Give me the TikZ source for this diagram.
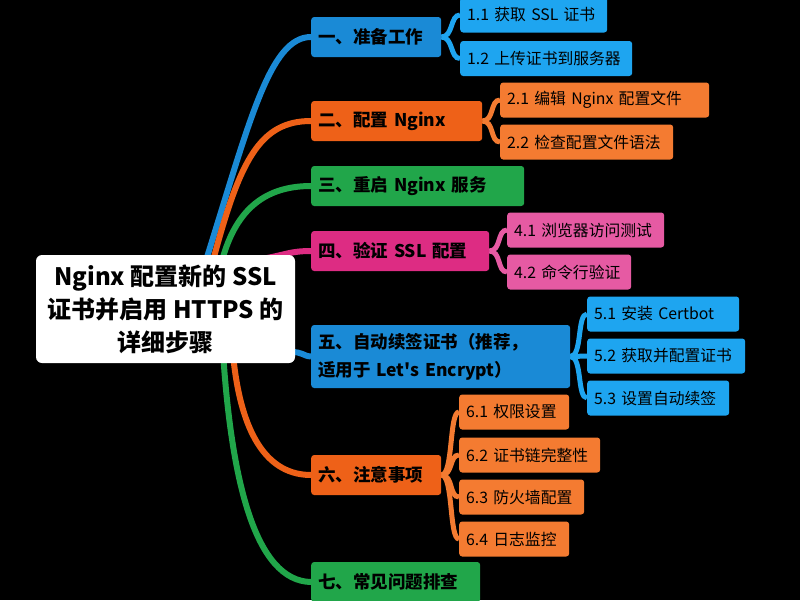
\documentclass[tikz,border=0pt]{standalone}
\usepackage{fontspec}
\newfontfamily\mapfont{Noto Sans CJK SC}
\usetikzlibrary{backgrounds}

\definecolor{topblue}{RGB}{26,138,214}
\definecolor{subblue}{RGB}{30,165,240}
\definecolor{toporange}{RGB}{238,97,24}
\definecolor{suborange}{RGB}{244,123,49}
\definecolor{topgreen}{RGB}{33,166,74}
\definecolor{toppink}{RGB}{221,44,131}
\definecolor{subpink}{RGB}{230,90,163}

\begin{document}
\begin{tikzpicture}[x=1pt,y=-1pt]
    \tikzstyle{root}=[fill=white,rounded corners=6pt,minimum width=259pt,minimum height=108pt,align=center,font=\mapfont\fontsize{24}{33}\selectfont\bfseries]
    \tikzstyle{topic}=[anchor=west,rounded corners=3pt,minimum height=40pt,inner xsep=7pt,align=left,font=\mapfont\fontsize{17.5}{28}\selectfont\bfseries]
    \tikzstyle{sub}=[anchor=west,rounded corners=3pt,minimum height=35pt,inner xsep=7pt,align=left,font=\mapfont\fontsize{15.8}{18}\selectfont]
    \tikzstyle{trunk}=[line width=6pt]
    \tikzstyle{twig}=[line width=5pt]

    \useasboundingbox (0,0) rectangle (800,600);

    \node[root] at (165.5,309) (root) {Nginx 配置新的 SSL\\证书并启用 HTTPS 的\\详细步骤};

    \node[topic,fill=topblue,text width=116pt] at (311,37) (t1) {一、准备工作};
    \node[topic,fill=toporange,text width=157pt] at (311,121) (t2) {二、配置 Nginx};
    \node[topic,fill=topgreen,text width=199pt] at (311,186) (t3) {三、重启 Nginx 服务};
    \node[topic,fill=toppink,text width=164pt] at (311,251) (t4) {四、验证 SSL 配置};
    \node[topic,fill=topblue,text width=245pt,minimum height=63pt] at (311,356.5) (t5) {五、自动续签证书（推荐，\\适用于 Let's Encrypt）};
    \node[topic,fill=toporange,text width=116pt] at (311,475) (t6) {六、注意事项};
    \node[topic,fill=topgreen,text width=155pt] at (311,582) (t7) {七、常见问题排查};

    \node[sub,fill=subblue,text width=133pt] at (460,15) (s11) {1.1 获取 SSL 证书};
    \node[sub,fill=subblue,text width=158pt] at (460,58.5) (s12) {1.2 上传证书到服务器};
    \node[sub,fill=suborange,text width=195pt] at (500,100) (s21) {2.1 编辑 Nginx 配置文件};
    \node[sub,fill=suborange,text width=159pt] at (500,142) (s22) {2.2 检查配置文件语法};
    \node[sub,fill=subpink,text width=143pt] at (507,230) (s41) {4.1 浏览器访问测试};
    \node[sub,fill=subpink,text width=110pt] at (507,272) (s42) {4.2 命令行验证};
    \node[sub,fill=subblue,text width=138pt] at (587,314) (s51) {5.1 安装 Certbot};
    \node[sub,fill=subblue,text width=144pt] at (587,356) (s52) {5.2 获取并配置证书};
    \node[sub,fill=subblue,text width=128pt] at (587,398) (s53) {5.3 设置自动续签};
    \node[sub,fill=suborange,text width=96pt] at (459,412) (s61) {6.1 权限设置};
    \node[sub,fill=suborange,text width=127pt] at (459,455) (s62) {6.2 证书链完整性};
    \node[sub,fill=suborange,text width=111pt] at (459,497) (s63) {6.3 防火墙配置};
    \node[sub,fill=suborange,text width=96pt] at (459,539) (s64) {6.4 日志监控};

    \begin{scope}[on background layer]
    \fill[black] (0,0) rectangle (800,600);

    % root to topics
    \draw[trunk,topblue] ([xshift=41pt,yshift=-4pt]root.north) .. controls (250,120) and (270,37) .. (t1.west);
    \draw[trunk,toporange] ([xshift=48pt,yshift=-4pt]root.north) .. controls (240,160) and (260,121) .. (t2.west);
    \draw[trunk,topgreen] ([xshift=57pt,yshift=-4pt]root.north) .. controls (235,215) and (260,186) .. (t3.west);
    \draw[trunk,toppink] ([xshift=97pt,yshift=-4pt]root.north) .. controls (285,255) and (290,251) .. (t4.west);
    \draw[trunk,topblue] ([xshift=-4pt,yshift=-43pt]root.east) .. controls (303,352) and (303,356) .. (t5.west);
    \draw[trunk,toporange] ([xshift=68pt,yshift=4pt]root.south) .. controls (240,420) and (260,475) .. (t6.west);
    \draw[trunk,topgreen] ([xshift=58pt,yshift=4pt]root.south) .. controls (232,480) and (255,581) .. (t7.west);

    % topics to subtopics
    \foreach \s in {s11,s12}
        \draw[twig,subblue] (t1.east) .. controls +(12,0) and +(-10,0) .. (\s.west);
    \foreach \s in {s21,s22}
        \draw[twig,suborange] (t2.east) .. controls +(12,0) and +(-10,0) .. (\s.west);
    \foreach \s in {s41,s42}
        \draw[twig,subpink] (t4.east) .. controls +(12,0) and +(-10,0) .. (\s.west);
    \foreach \s in {s51,s52,s53}
        \draw[twig,subblue] (t5.east) .. controls +(12,0) and +(-10,0) .. (\s.west);
    \foreach \s in {s61,s62,s63,s64}
        \draw[twig,suborange] (t6.east) .. controls +(12,0) and +(-10,0) .. (\s.west);
    \end{scope}
\end{tikzpicture}
\end{document}
